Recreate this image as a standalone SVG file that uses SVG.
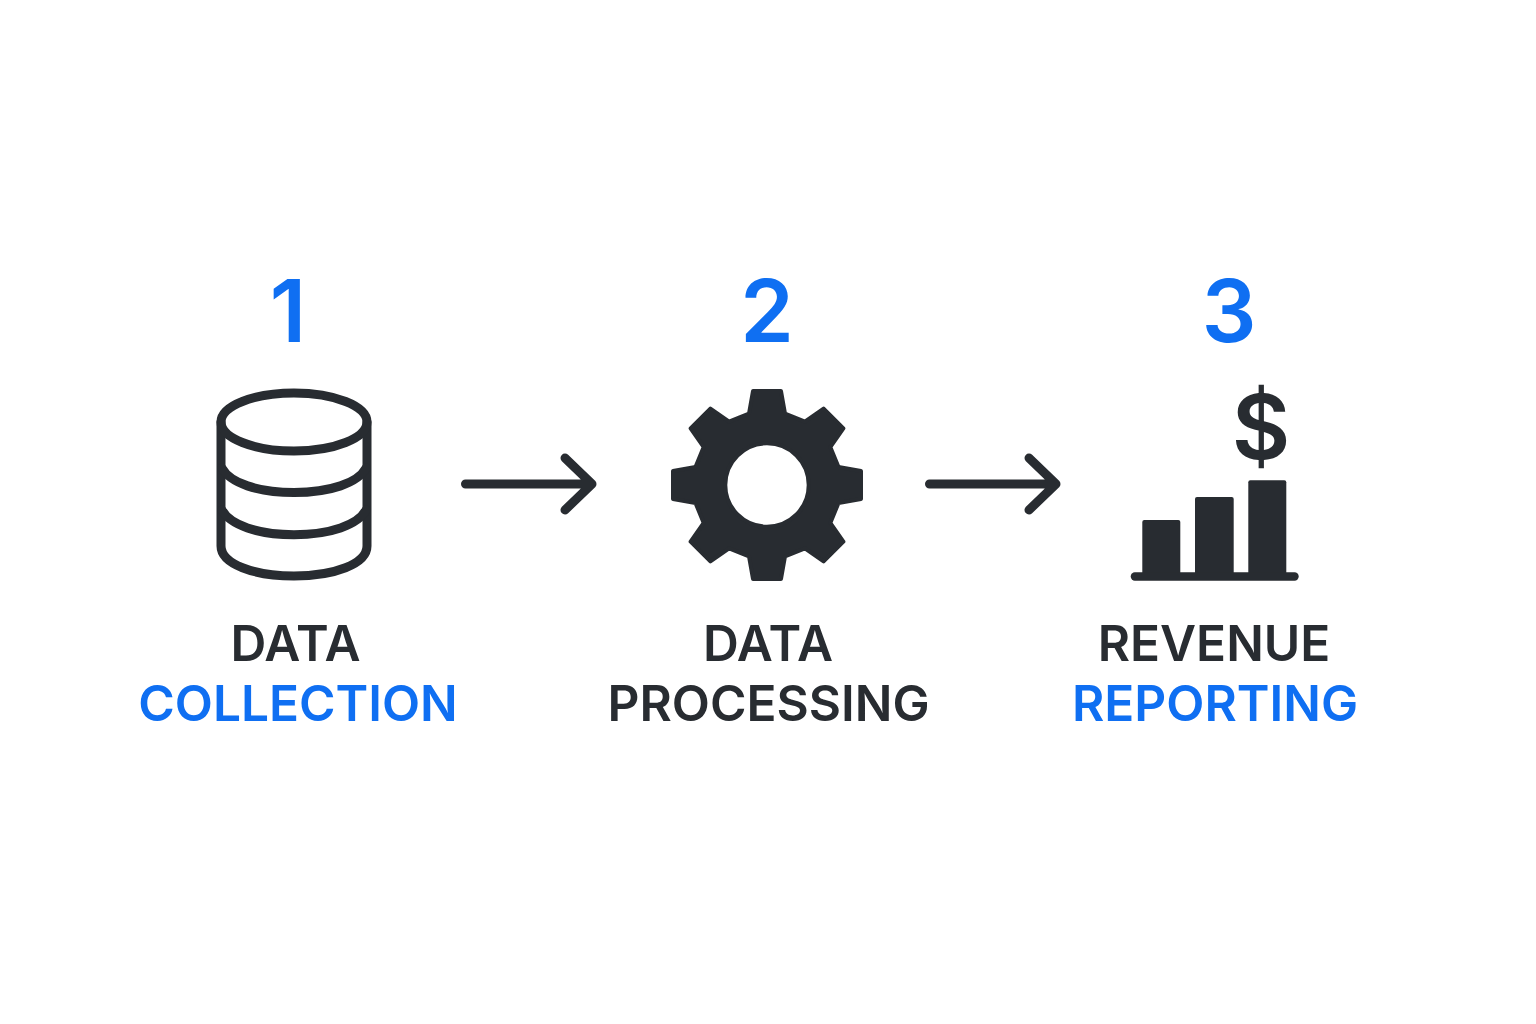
<svg xmlns="http://www.w3.org/2000/svg" width="1536" height="1024" viewBox="0 0 1536 1024">
<style>
text{font-family:Inter,"Liberation Sans",sans-serif;font-weight:600;text-anchor:middle}
.num{font-size:86px;fill:#0f6ff2}
.lab{font-size:49.600px}
.dark{fill:#282c31}
.blue{fill:#0f6ff2}
.line{fill:none;stroke:#282c31;stroke-width:9;stroke-linecap:round;stroke-linejoin:round}
.solid{fill:#282c31}
</style>
<rect width="1536" height="1024" fill="#ffffff"/>
<g id="connectors">
<path class="line" d="M465.500 484H592M565 458L592 484L565 510"/>
<path class="line" d="M929.500 484H1056M1029 458L1056 484L1029 510"/>
</g>
<g id="node-1">
<text class="num" x="288" y="342">1</text>
<path class="line" d="M221 422V546C221 564 254 576 294 576C334 576 367 564 367 546V422"/>
<ellipse class="line" cx="294" cy="422" rx="73" ry="29"/>
<path class="line" d="M222 468C230 483 258 492.500 294 492.500C330 492.500 358 483 366 468"/>
<path class="line" d="M222 510C230 525 258 534.700 294 534.700C330 534.700 358 525 366 510"/>
<text class="lab dark" x="295.500" y="661">DATA</text>
<text class="lab blue" x="298" y="721">COLLECTION</text>
</g>
<g id="node-2">
<text class="num" x="767" y="342">2</text>
<path class="solid" fill-rule="evenodd" stroke="#282c31" stroke-width="4" stroke-linejoin="round" transform="translate(767 485)" d="M-18-71.500L-14-94H14L18-71.500L37.900-63.300L56.600-76.400L76.400-56.600L63.300-37.900L71.500-18L94-14V14L71.500 18L63.300 37.900L76.400 56.600L56.600 76.400L37.900 63.300L18 71.500L14 94H-14L-18 71.500L-37.900 63.300L-56.600 76.400L-76.400 56.600L-63.300 37.900L-71.500 18L-94 14V-14L-71.500-18L-63.300-37.900L-76.400-56.600L-56.600-76.400L-37.900-63.300ZM-41.700 0A41.700 41.700 0 1 0 41.700 0A41.700 41.700 0 1 0-41.700 0Z"/>
<text class="lab dark" x="768" y="661">DATA</text>
<text class="lab dark" x="768.500" y="721">PROCESSING</text>
</g>
<g id="node-3">
<text class="num" x="1229" y="342">3</text>
<text class="dark" x="1261" y="459" font-size="90">$</text>
<rect class="solid" x="1142.300" y="520" width="38" height="56" rx="2"/>
<rect class="solid" x="1195" y="497" width="38.700" height="79" rx="2"/>
<rect class="solid" x="1248.300" y="480.300" width="38" height="96" rx="2"/>
<rect class="solid" x="1130.700" y="572.300" width="168" height="8.400" rx="4.200"/>
<text class="lab dark" x="1214" y="661">REVENUE</text>
<text class="lab blue" x="1215" y="721">REPORTING</text>
</g>
</svg>
